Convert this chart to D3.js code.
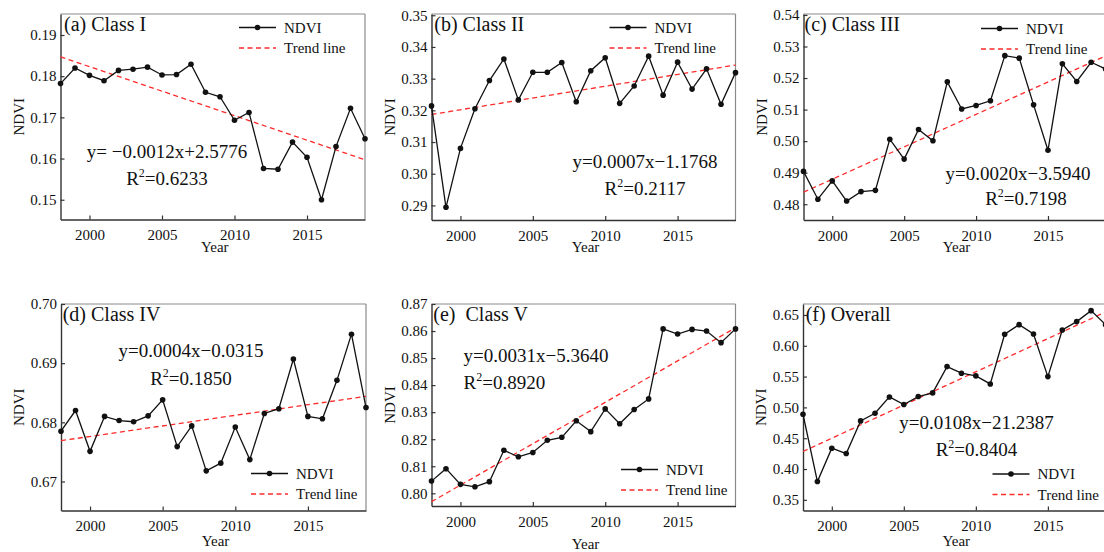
<!DOCTYPE html>
<html>
<head>
<meta charset="utf-8">
<script src="https://cdn.jsdelivr.net/npm/d3@7"></script>
<style>
body { margin: 0; background: #fff; }
svg text { font-family: "Liberation Serif", "Times New Roman", serif; fill: #111; }
</style>
</head>
<body>
<div id="chart"></div>
<script>
// years on the x axis
var years = [1998, 1999, 2000, 2001, 2002, 2003, 2004, 2005, 2006, 2007, 2008,
             2009, 2010, 2011, 2012, 2013, 2014, 2015, 2016, 2017, 2018, 2019];
var yearTicks = [2000, 2005, 2010, 2015];

// NDVI per class
var ndviClassI   = [0.1782, 0.1820, 0.1802, 0.1789, 0.1814, 0.1817, 0.1822, 0.1803, 0.1804, 0.1829, 0.1761,
                    0.1750, 0.1693, 0.1712, 0.1576, 0.1574, 0.1640, 0.1603, 0.1500, 0.1629, 0.1722, 0.1648];
var ndviClassII  = [0.3214, 0.2894, 0.3080, 0.3205, 0.3294, 0.3362, 0.3233, 0.3320, 0.3320, 0.3351, 0.3227,
                    0.3325, 0.3366, 0.3222, 0.3277, 0.3371, 0.3248, 0.3352, 0.3267, 0.3331, 0.3219, 0.3319];
var ndviClassIII = [0.4904, 0.4816, 0.4874, 0.4810, 0.4840, 0.4844, 0.5006, 0.4943, 0.5037, 0.5001, 0.5188,
                    0.5102, 0.5113, 0.5128, 0.5271, 0.5263, 0.5115, 0.4971, 0.5245, 0.5189, 0.5250, 0.5229];
var ndviClassIV  = [0.6785, 0.6820, 0.6751, 0.6810, 0.6803, 0.6801, 0.6811, 0.6838, 0.6759, 0.6794, 0.6718,
                    0.6731, 0.6792, 0.6737, 0.6815, 0.6823, 0.6907, 0.6810, 0.6806, 0.6871, 0.6949, 0.6825];
var ndviClassV   = [0.8045, 0.8091, 0.8033, 0.8024, 0.8043, 0.8159, 0.8135, 0.8151, 0.8196, 0.8207, 0.8268,
                    0.8228, 0.8312, 0.8257, 0.8310, 0.8349, 0.8608, 0.8589, 0.8606, 0.8600, 0.8557, 0.8608];
var ndviOverall  = [0.4889, 0.3797, 0.4338, 0.4251, 0.4781, 0.4905, 0.5170, 0.5046, 0.5176, 0.5235, 0.5662,
                    0.5555, 0.5511, 0.5381, 0.6187, 0.6343, 0.6192, 0.5500, 0.6257, 0.6392, 0.6570, 0.6343];

// trend line value at 1998 and at 2019
var trendClassI   = [0.1847, 0.1597];
var trendClassII  = [0.3187, 0.3343];
var trendClassIII = [0.4838, 0.5270];
var trendClassIV  = [0.6769, 0.6844];
var trendClassV   = [0.7969, 0.8612];
var trendOverall  = [0.4284, 0.6548];

// y axis ranges and ticks
var yDomains = [[0.1452, 0.1951], [0.2854, 0.3504], [0.4750, 0.5403],
                [0.6651, 0.7000], [0.7953, 0.8700], [0.3327, 0.6678]];
var yTicks = [
  [0.15, 0.16, 0.17, 0.18, 0.19],
  [0.29, 0.30, 0.31, 0.32, 0.33, 0.34, 0.35],
  [0.48, 0.49, 0.50, 0.51, 0.52, 0.53, 0.54],
  [0.67, 0.68, 0.69, 0.70],
  [0.80, 0.81, 0.82, 0.83, 0.84, 0.85, 0.86, 0.87],
  [0.35, 0.40, 0.45, 0.50, 0.55, 0.60, 0.65]
];

var titles = ["(a) Class I", "(b) Class II", "(c) Class III", "(d) Class IV", "(e)\u00a0 Class V", "(f) Overall"];
var equations = ["y= \u22120.0012x+2.5776", "y=0.0007x\u22121.1768", "y=0.0020x\u22123.5940",
                 "y=0.0004x\u22120.0315", "y=0.0031x\u22125.3640", "y=0.0108x\u221221.2387"];
var r2Values = ["0.6233", "0.2117", "0.7198", "0.1850", "0.8920", "0.8404"];

var series = [ndviClassI, ndviClassII, ndviClassIII, ndviClassIV, ndviClassV, ndviOverall];
var trends = [trendClassI, trendClassII, trendClassIII, trendClassIV, trendClassV, trendOverall];

// where each panel sits on the page
var layout = [
  {left: 60.5, right: 365,    top: 14,  bottom: 219.5, titleX: 64,    eq: [167, 158, "middle"],   r2: [167, 185, "middle"],   leg: [239, 27.5],   yearY: 252},
  {left: 431.5, right: 735.5, top: 14,  bottom: 220,   titleX: 434.3, eq: [645, 167.5, "middle"], r2: [645, 194.5, "middle"], leg: [609.5, 27.5], yearY: 252},
  {left: 803.5, right: 1105.5, top: 14, bottom: 220,   titleX: 804.5, eq: [1018, 179.5, "middle"], r2: [1026, 205, "middle"], leg: [981, 28.5],  yearY: 252},
  {left: 61, right: 366,      top: 304, bottom: 510.5, titleX: 62.7,  eq: [191, 357, "middle"],   r2: [191, 385, "middle"],   leg: [251, 473.5],  yearY: 545.5},
  {left: 431.5, right: 735.5, top: 304, bottom: 506,   titleX: 433.3, eq: [463.5, 361.5, "start"], r2: [463.5, 388.5, "start"], leg: [621, 469.5], yearY: 549},
  {left: 803, right: 1105.5,  top: 304, bottom: 510.5, titleX: 805.7, eq: [976.5, 428.5, "middle"], r2: [976.5, 456, "middle"], leg: [992.5, 474], yearY: 546}
];

var svg = d3.select("#chart").append("svg")
  .attr("width", 1104).attr("height", 552)
  .style("display", "block");

layout.forEach(function (L, i) {
  var x = d3.scaleLinear().domain([1998, 2019]).range([L.left, L.right]);
  var y = d3.scaleLinear().domain(yDomains[i]).range([L.bottom, L.top]);
  var g = svg.append("g");

  // frame: light top/right, dark left/bottom
  g.append("line").attr("x1", L.left).attr("x2", L.right).attr("y1", L.top).attr("y2", L.top)
    .attr("stroke", "#8a8a8a").attr("stroke-width", 1.2);
  g.append("line").attr("x1", L.right).attr("x2", L.right).attr("y1", L.top).attr("y2", L.bottom)
    .attr("stroke", "#8a8a8a").attr("stroke-width", 1.2);

  var xAxis = d3.axisBottom(x).tickValues(yearTicks).tickFormat(d3.format("d"))
    .tickSizeInner(-4).tickSizeOuter(0).tickPadding(10);
  var yAxis = d3.axisLeft(y).tickValues(yTicks[i]).tickFormat(d3.format(".2f"))
    .tickSizeInner(-4).tickSizeOuter(0).tickPadding(4);

  var xg = g.append("g").attr("transform", "translate(0," + L.bottom + ")").call(xAxis);
  var yg = g.append("g").attr("transform", "translate(" + L.left + ",0)").call(yAxis);
  [xg, yg].forEach(function (a) {
    // drop d3's default sans-serif so the serif font applies
    a.attr("font-family", null).attr("font-size", null);
    a.selectAll("text").style("font-size", "15px").attr("fill", "#111");
    a.selectAll("line").attr("stroke", "#333").attr("stroke-width", 1.2);
    a.select(".domain").attr("stroke", "#333").attr("stroke-width", 1.4);
  });

  // axis titles
  g.append("text").attr("x", (L.left + L.right) / 2 + 2).attr("y", L.yearY)
    .attr("text-anchor", "middle").style("font-size", "15px").text("Year");
  g.append("text")
    .attr("transform", "translate(" + (L.left - 37) + "," + ((L.top + L.bottom) / 2) + ") rotate(-90)")
    .attr("text-anchor", "middle").style("font-size", "15px").text("NDVI");

  // trend line
  g.append("line")
    .attr("x1", x(1998)).attr("y1", y(trends[i][0]))
    .attr("x2", x(2019)).attr("y2", y(trends[i][1]))
    .attr("stroke", "#ff2a2a").attr("stroke-width", 1.3).attr("stroke-dasharray", "5,3.5");

  // NDVI line with dots
  var pts = years.map(function (yr, k) { return [yr, series[i][k]]; });
  g.append("path").datum(pts)
    .attr("fill", "none").attr("stroke", "#111").attr("stroke-width", 1.3)
    .attr("d", d3.line().x(function (d) { return x(d[0]); }).y(function (d) { return y(d[1]); }));
  g.selectAll(".dot").data(pts).enter().append("circle")
    .attr("class", "dot").attr("r", 2.8)
    .attr("cx", function (d) { return x(d[0]); })
    .attr("cy", function (d) { return y(d[1]); })
    .attr("fill", "#111");

  // panel title
  g.append("text").attr("x", L.titleX).attr("y", L.top + 17)
    .style("font-size", "20px").text(titles[i]);

  // equation and R2
  g.append("text").attr("x", L.eq[0]).attr("y", L.eq[1]).attr("text-anchor", L.eq[2])
    .style("font-size", "19px").text(equations[i]);
  var r = g.append("text").attr("x", L.r2[0]).attr("y", L.r2[1]).attr("text-anchor", L.r2[2])
    .style("font-size", "19px");
  r.append("tspan").text("R");
  r.append("tspan").attr("dy", -8).style("font-size", "12px").text("2");
  r.append("tspan").attr("dy", 8).text("=" + r2Values[i]);

  // legend
  var lx = L.leg[0], ly = L.leg[1];
  g.append("line").attr("x1", lx).attr("x2", lx + 37).attr("y1", ly).attr("y2", ly)
    .attr("stroke", "#111").attr("stroke-width", 1.3);
  g.append("circle").attr("cx", lx + 18.5).attr("cy", ly).attr("r", 2.8).attr("fill", "#111");
  g.append("text").attr("x", lx + 45).attr("y", ly + 5).style("font-size", "15px").text("NDVI");
  g.append("line").attr("x1", lx).attr("x2", lx + 37).attr("y1", ly + 20.5).attr("y2", ly + 20.5)
    .attr("stroke", "#ff2a2a").attr("stroke-width", 1.3).attr("stroke-dasharray", "5,3.5");
  g.append("text").attr("x", lx + 45).attr("y", ly + 25.5).style("font-size", "15px").text("Trend line");
});
</script>
</body>
</html>
